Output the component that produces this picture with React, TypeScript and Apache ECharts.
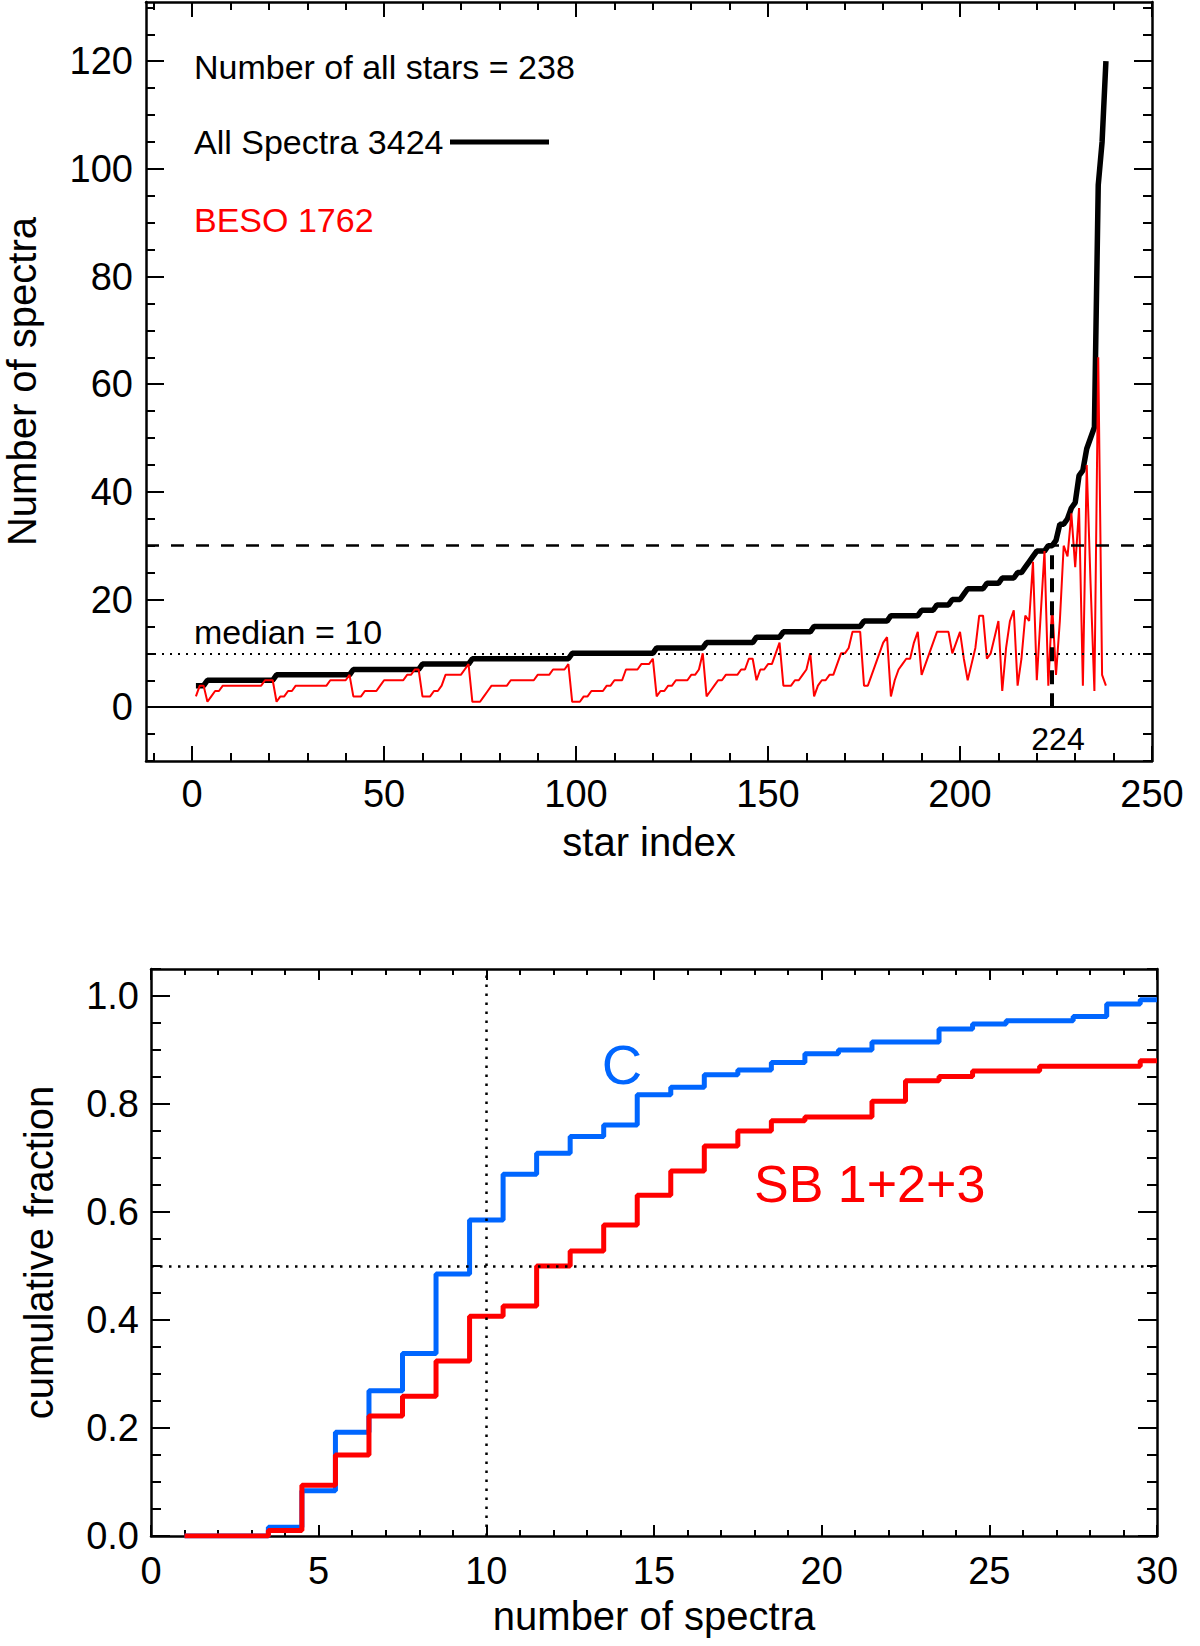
import * as echarts from "echarts";
import { useEffect, useRef } from "react";

const FONT = "'Liberation Sans', Arial, Helvetica, sans-serif";

// top panel: number of spectra per star (stars sorted by total), index 1..238
const allSpectra = [
  4, 4, 4, 5, 5, 5, 5, 5, 5, 5,
  5, 5, 5, 5, 5, 5, 5, 5, 5, 5,
  5, 6, 6, 6, 6, 6, 6, 6, 6, 6,
  6, 6, 6, 6, 6, 6, 6, 6, 6, 6,
  6, 7, 7, 7, 7, 7, 7, 7, 7, 7,
  7, 7, 7, 7, 7, 7, 7, 7, 7, 8,
  8, 8, 8, 8, 8, 8, 8, 8, 8, 8,
  8, 8, 9, 9, 9, 9, 9, 9, 9, 9,
  9, 9, 9, 9, 9, 9, 9, 9, 9, 9,
  9, 9, 9, 9, 9, 9, 9, 9, 10, 10,
  10, 10, 10, 10, 10, 10, 10, 10, 10, 10,
  10, 10, 10, 10, 10, 10, 10, 10, 10, 10,
  11, 11, 11, 11, 11, 11, 11, 11, 11, 11,
  11, 11, 11, 12, 12, 12, 12, 12, 12, 12,
  12, 12, 12, 12, 12, 12, 13, 13, 13, 13,
  13, 13, 13, 14, 14, 14, 14, 14, 14, 14,
  14, 15, 15, 15, 15, 15, 15, 15, 15, 15,
  15, 15, 15, 15, 16, 16, 16, 16, 16, 16,
  16, 17, 17, 17, 17, 17, 17, 17, 17, 18,
  18, 18, 18, 19, 19, 19, 19, 20, 20, 20,
  21, 22, 22, 22, 22, 22, 23, 23, 23, 23,
  24, 24, 24, 24, 25, 25, 26, 27, 28, 29,
  29, 29, 30, 30, 31, 34, 34, 35, 37, 38,
  43, 44, 48, 50, 52, 97, 105, 120,
];

const besoSpectra = [
  2, 4, 4, 1, 2, 3, 3, 4, 4, 4,
  4, 4, 4, 4, 4, 4, 4, 4, 5, 5,
  5, 1, 2, 2, 3, 3, 4, 4, 4, 4,
  4, 4, 4, 4, 4, 5, 5, 5, 5, 5,
  6, 2, 2, 2, 3, 3, 3, 3, 4, 5,
  5, 5, 5, 5, 5, 6, 6, 7, 7, 2,
  2, 2, 3, 3, 4, 6, 6, 6, 6, 6,
  7, 8, 1, 1, 1, 2, 3, 4, 4, 4,
  4, 4, 5, 5, 5, 5, 5, 5, 5, 6,
  6, 6, 6, 7, 7, 7, 7, 8, 1, 1,
  1, 2, 2, 3, 3, 3, 3, 4, 4, 5,
  5, 5, 7, 7, 7, 7, 8, 8, 8, 9,
  2, 3, 3, 4, 4, 5, 5, 5, 5, 6,
  6, 7, 10, 2, 3, 4, 5, 5, 6, 6,
  6, 6, 7, 7, 9, 9, 5, 7, 7, 8,
  8, 10, 12, 4, 4, 4, 5, 5, 6, 7,
  10, 2, 4, 5, 5, 6, 6, 8, 10, 10,
  11, 14, 14, 14, 4, 4, 6, 8, 10, 12,
  13, 2, 5, 7, 8, 9, 9, 12, 14, 6,
  8, 10, 12, 14, 14, 14, 14, 10, 12, 14,
  9, 5, 8, 11, 17, 17, 9, 10, 13, 16,
  3, 11, 16, 18, 4, 9, 17, 16, 27, 5,
  17, 29, 4, 19, 6, 16, 30, 28, 36, 26,
  37, 4, 45, 23, 3, 65, 6, 4,
];

const MEDIAN_SPECTRA = 10;
const CUT_SPECTRA = 30;
const CUT_INDEX = 224;

// bottom panel: cumulative fractions
const nSpectra = [
  1, 2, 3, 4, 5, 6, 7, 8, 9, 10, 11, 12, 13, 14, 15,
  16, 17, 18, 19, 20, 21, 22, 23, 24, 25, 26, 27, 28, 29, 30,
];
const fracC = [
  0, 0, 0, 0.016, 0.084, 0.192, 0.269, 0.338, 0.485, 0.585,
  0.67, 0.709, 0.74, 0.761, 0.817, 0.831, 0.854, 0.863, 0.877, 0.893,
  0.9, 0.915, 0.915, 0.939, 0.948, 0.954, 0.954, 0.962, 0.985, 0.993,
];
const fracSB = [
  0, 0, 0, 0.01, 0.094, 0.15, 0.222, 0.259, 0.324, 0.407,
  0.426, 0.5, 0.528, 0.576, 0.631, 0.676, 0.722, 0.75, 0.769, 0.776,
  0.776, 0.805, 0.843, 0.851, 0.861, 0.861, 0.87, 0.87, 0.87, 0.88,
];

// tick positions
const topXMajor = [0, 50, 100, 150, 200, 250];
const topYMajor = [0, 20, 40, 60, 80, 100, 120];
const botXMajor = [0, 5, 10, 15, 20, 25, 30];
const botYMajor = [0, 0.2, 0.4, 0.6, 0.8, 1.0];

const steps = (from: number, to: number, step: number) => {
  const out: number[] = [];
  for (let v = from; v <= to + 1e-9; v += step) out.push(Math.round(v * 1000) / 1000);
  return out;
};
const topXMinor = steps(-10, 250, 10);
const topYMinor = steps(-10, 130, 5);
const botXMinor = steps(0, 30, 1);
const botYMinor = steps(0, 1.05, 0.05);

const BLUE = "#0066ff";
const RED = "#ff0000";

const TOP_GRID = { left: 146, top: 2, width: 1006, height: 759, outerBoundsMode: "none" };
const BOT_GRID = { left: 151, top: 969, width: 1006, height: 567, outerBoundsMode: "none" };

function axis(
  grid: number,
  pos: string,
  min: number,
  max: number,
  ticks: number[],
  len: number,
  opts: any = {}
) {
  const a: any = {
    type: "value",
    gridIndex: grid,
    position: pos,
    min,
    max,
    axisLine: {
      show: opts.line !== false,
      onZero: false,
      lineStyle: { color: "#000", width: 2.5 },
    },
    axisTick: {
      show: true,
      inside: true,
      length: len,
      customValues: ticks,
      lineStyle: { color: "#000", width: 2 },
    },
    axisLabel: { show: false },
    splitLine: { show: false },
    axisPointer: { show: false },
  };
  if (opts.labels) {
    a.axisLabel = {
      show: true,
      customValues: ticks,
      margin: opts.margin,
      fontSize: 38,
      fontFamily: FONT,
      color: "#000",
    };
    if (opts.formatter) a.axisLabel.formatter = opts.formatter;
  }
  if (opts.name) {
    a.name = opts.name;
    a.nameLocation = "middle";
    a.nameGap = opts.nameGap;
    a.nameTextStyle = { fontSize: 40, fontFamily: FONT, color: "#000" };
  }
  return a;
}

const text = (x: number, y: number, t: string, size: number, fill: string, align = "left") => ({
  type: "text",
  x,
  y,
  silent: true,
  style: { text: t, font: `${size}px ${FONT}`, fill, align, verticalAlign: "middle" },
});

const option: any = {
  animation: false,
  backgroundColor: "#fff",
  grid: [
    { ...TOP_GRID },
    { ...TOP_GRID },
    { ...BOT_GRID },
    { ...BOT_GRID },
  ],
  xAxis: [
    axis(0, "bottom", -12, 250, topXMajor, 15, { labels: true, margin: 14, name: "star index", nameGap: 61 }),
    axis(0, "top", -12, 250, topXMajor, 15),
    axis(1, "bottom", -12, 250, topXMinor, 8, { line: false }),
    axis(1, "top", -12, 250, topXMinor, 8, { line: false }),
    axis(2, "bottom", 0, 30, botXMajor, 11, { labels: true, margin: 16, name: "number of spectra", nameGap: 60 }),
    axis(2, "top", 0, 30, botXMajor, 11),
    axis(3, "bottom", 0, 30, botXMinor, 6, { line: false }),
    axis(3, "top", 0, 30, botXMinor, 6, { line: false }),
  ],
  yAxis: [
    axis(0, "left", -10, 131, topYMajor, 18, { labels: true, margin: 13, name: "Number of spectra", nameGap: 104 }),
    axis(0, "right", -10, 131, topYMajor, 18),
    axis(1, "left", -10, 131, topYMinor, 9, { line: false }),
    axis(1, "right", -10, 131, topYMinor, 9, { line: false }),
    axis(2, "left", 0, 1.05, botYMajor, 19, {
      labels: true,
      margin: 12,
      name: "cumulative fraction",
      nameGap: 92,
      formatter: (v: number) => v.toFixed(1),
    }),
    axis(2, "right", 0, 1.05, botYMajor, 19),
    axis(3, "left", 0, 1.05, botYMinor, 10, { line: false }),
    axis(3, "right", 0, 1.05, botYMinor, 10, { line: false }),
  ],
  series: [
    {
      name: "All Spectra",
      type: "line",
      xAxisIndex: 0,
      yAxisIndex: 0,
      data: allSpectra.map((v, k) => [k + 1, v]),
      showSymbol: false,
      silent: true,
      lineStyle: { color: "#000", width: 5.5 },
      itemStyle: { color: "#000" },
      markLine: {
        silent: true,
        symbol: "none",
        label: { show: false },
        data: [
          { yAxis: 0, lineStyle: { color: "#000", width: 2, type: "solid" } },
          { yAxis: MEDIAN_SPECTRA, lineStyle: { color: "#000", width: 2, type: [2, 6] } },
          { yAxis: CUT_SPECTRA, lineStyle: { color: "#000", width: 2.5, type: [13, 12] } },
          [
            { coord: [CUT_INDEX, 0], lineStyle: { color: "#000", width: 4, type: [14, 9] } },
            { coord: [CUT_INDEX, CUT_SPECTRA] },
          ],
        ],
      },
    },
    {
      name: "BESO",
      type: "line",
      xAxisIndex: 0,
      yAxisIndex: 0,
      data: besoSpectra.map((v, k) => [k + 1, v]),
      showSymbol: false,
      silent: true,
      lineStyle: { color: RED, width: 2 },
      itemStyle: { color: RED },
    },
    {
      name: "C",
      type: "line",
      xAxisIndex: 4,
      yAxisIndex: 4,
      step: "middle",
      data: nSpectra.map((n, k) => [n, fracC[k]]),
      showSymbol: false,
      silent: true,
      lineStyle: { color: BLUE, width: 5 },
      itemStyle: { color: BLUE },
      markLine: {
        silent: true,
        symbol: "none",
        label: { show: false },
        lineStyle: { color: "#000", width: 2.5, type: [2.5, 6.5] },
        data: [{ xAxis: 10 }, { yAxis: 0.5 }],
      },
    },
    {
      name: "SB 1+2+3",
      type: "line",
      xAxisIndex: 4,
      yAxisIndex: 4,
      step: "middle",
      data: nSpectra.map((n, k) => [n, fracSB[k]]),
      showSymbol: false,
      silent: true,
      lineStyle: { color: RED, width: 5 },
      itemStyle: { color: RED },
    },
  ],
  graphic: [
    text(194, 67, "Number of all stars = 238", 34, "#000"),
    text(194, 142, "All Spectra 3424", 34, "#000"),
    { type: "line", silent: true, shape: { x1: 450, y1: 142, x2: 549, y2: 142 }, style: { stroke: "#000", lineWidth: 5 } },
    text(194, 220, "BESO 1762", 34, RED),
    text(194, 632, "median = 10", 34, "#000"),
    text(1058, 739, "224", 32, "#000", "center"),
    text(622, 1064, "C", 56, BLUE, "center"),
    text(754, 1184, "SB 1+2+3", 52, RED),
  ],
};

export default function App() {
  const ref = useRef<HTMLDivElement | null>(null);

  useEffect(() => {
    if (!ref.current) return;
    const chart = echarts.init(ref.current, null, { renderer: "svg" });
    chart.setOption(option);
    return () => {
      chart.dispose();
    };
  }, []);

  return (
    <div
      ref={ref}
      style={{ position: "absolute", left: 0, top: 0, width: 1200, height: 1646, background: "#fff" }}
    />
  );
}
